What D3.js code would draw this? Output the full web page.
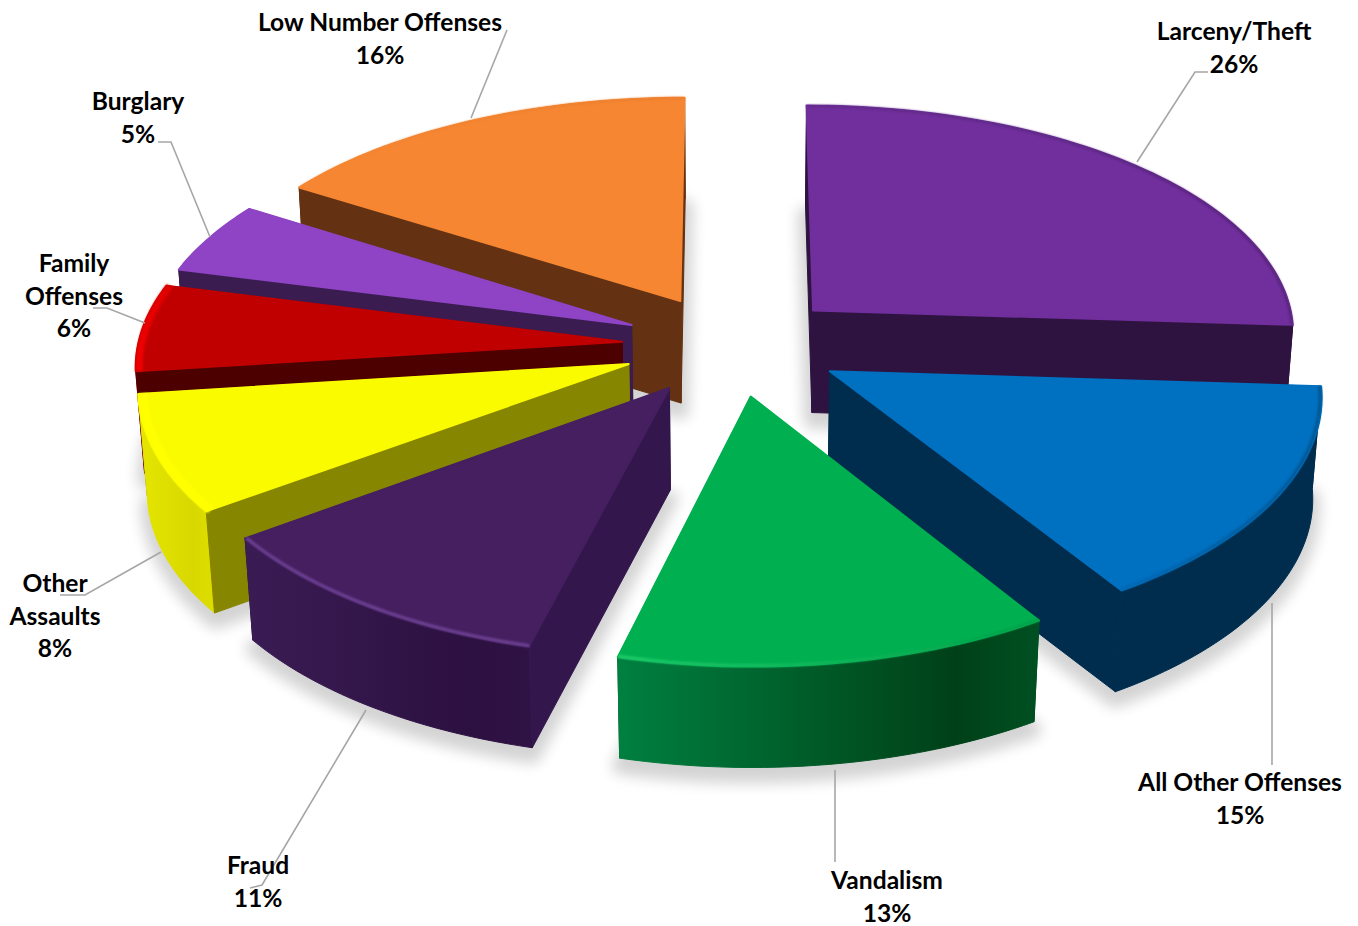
<!DOCTYPE html>
<html>
<head>
<meta charset="utf-8">
<script src="https://cdn.jsdelivr.net/npm/d3@7"></script>
<style>
html,body{margin:0;padding:0;background:#fff;}
svg{display:block;}
text{font-family:Lato,sans-serif;font-weight:700;font-size:24.6px;fill:#000;text-anchor:middle;}
</style>
</head>
<body>
<div id="chart"></div>
<script>
// values
const categories = ["Larceny/Theft","All Other Offenses","Vandalism","Fraud","Other Assaults","Family Offenses","Burglary","Low Number Offenses"];
const shares = [26,15,13,11,8,6,5,16];

// colours, same order as categories
const topColors = ["#702f9c","#0070c0","#00b050","#451f60","#fbfb00","#c00000","#8e44c4","#f68632"];
const bevelLeft = ["#5f2a88","#0068b4","#22cc6c","#6f4296","#ffff00","#f00000","#8e44c4","#f68632"];
const bevelRight = ["#4f2272","#00558f","#00a04a","#6f4296","#ffff00","#e00000","#8e44c4","#e87c2c"];
const bevelWidths = [2,3,3,3,9,7,0,2];
const sideColors = ["#2e1240","#002d4e","#004d22","#33174c","#868600","#4d0000","#3a1c50","#643212"];
const outerColors = [
    ["#4a2070","#2e1240"],
    ["#002d4e","#002d4e"],
    ["#008040","#004018"],
    ["#3a1c54","#2c1040"],
    ["#e6e600","#d8d800"],
    ["#ff0000","#c00000"],
    ["#3a1c50","#3a1c50"],
    ["#643212","#643212"]
];

// label placement: centre x, centre y of first line, lines
const labelLayout = [
    {x:1234,y:32,lines:["Larceny/Theft"]},
    {x:1240,y:783,lines:["All Other Offenses"]},
    {x:887,y:881,lines:["Vandalism"]},
    {x:258,y:866,lines:["Fraud"]},
    {x:55,y:584,lines:["Other","Assaults"]},
    {x:74,y:264,lines:["Family","Offenses"]},
    {x:138,y:102,lines:["Burglary"]},
    {x:380,y:23,lines:["Low Number Offenses"]}
];
const leaders = [
    [[1137,162],[1195,72],[1208,72]],
    [[1272,603],[1272,765]],
    [[835,770],[835,862]],
    [[366,710],[262,885],[250,888]],
    [[161,552],[85,595],[60,595]],
    [[145,323],[107,308],[93,308]],
    [[210,237],[171,142],[158,142]],
    [[471,118],[507,30]]
];

const width = 1358, height = 926;
const cx = 733, cy = 345;
const rx = 484, ry = 232;   // pie radii on screen
const perspX = 0.09, perspY = 0.1;  // back of pie is further away
const depth = 102;          // height of the cake
const explodeX = 0.23, explodeY = 0.22;

// pie space -> screen, z 0 is top face, 1 is bottom face
function project(u,v,z){
    return [
        cx + rx*u/(1 + perspX*v + 0.015*z),
        cy - ry*v/(1 + perspY*v + 0.015*z) + depth*z*(1 - 0.035*v)
    ];
}

function pt(d,a,r,z){
    const ou = explodeX*Math.sin(d.mid), ov = explodeY*Math.cos(d.mid);
    return project(ou + r*Math.sin(a), ov + r*Math.cos(a), z);
}

function arcPts(d,r,z){
    const n = Math.max(8,Math.ceil((d.endAngle-d.startAngle)*40));
    const ang = d3.scaleLinear().domain([0,n]).range([d.startAngle,d.endAngle]);
    return d3.range(n+1).map(i => pt(d,ang(i),r,z));
}

const pie = d3.pie().sort(null).value(d => d.share);
const rows = categories.map((c,i) => ({name:c,share:shares[i],i:i}));
const arcs = pie(rows).map(d => {
    d.mid = (d.startAngle+d.endAngle)/2;
    return d;
});
// back slices first
const order = arcs.slice().sort((a,b) => Math.cos(b.mid)-Math.cos(a.mid));

const line = d3.line();
const closed = p => line(p)+"Z";

const svg = d3.select("#chart").append("svg")
    .attr("width",width)
    .attr("height",height)
    .attr("viewBox",[0,0,width,height]);

const defs = svg.append("defs");
defs.append("filter").attr("id","soft")
    .attr("x","-20%").attr("y","-20%").attr("width","140%").attr("height","140%")
    .append("feGaussianBlur").attr("stdDeviation",7);
defs.append("filter").attr("id","bevel")
    .attr("filterUnits","userSpaceOnUse")
    .attr("x",0).attr("y",0).attr("width",width).attr("height",height)
    .append("feGaussianBlur").attr("stdDeviation",1.2);

arcs.forEach(d => {
    const i = d.data.i;
    const xs = arcPts(d,1,0).map(p => p[0]);
    const g = defs.append("linearGradient")
        .attr("id","outer"+i)
        .attr("gradientUnits","userSpaceOnUse")
        .attr("x1",d3.min(xs)).attr("x2",d3.max(xs))
        .attr("y1",0).attr("y2",0);
    g.append("stop").attr("offset","0%").attr("stop-color",outerColors[i][0]);
    g.append("stop").attr("offset","80%").attr("stop-color",outerColors[i][1]);
    g.append("stop").attr("offset","100%").attr("stop-color",d3.interpolateRgb(outerColors[i][1],outerColors[i][0])(0.25));

    const b = defs.append("linearGradient")
        .attr("id","bevelGrad"+i)
        .attr("gradientUnits","userSpaceOnUse")
        .attr("x1",d3.min(xs)).attr("x2",d3.max(xs))
        .attr("y1",0).attr("y2",0);
    b.append("stop").attr("offset","0%").attr("stop-color",bevelLeft[i]);
    b.append("stop").attr("offset","100%").attr("stop-color",bevelRight[i]);
});

// soft shadow under every slice
svg.append("g").attr("class","shadows")
    .attr("opacity",0.17)
    .attr("filter","url(#soft)")
    .selectAll("path").data(arcs).join("path")
    .attr("d",d => closed([pt(d,0,0,1.08)].concat(arcPts(d,1,1.08))))
    .attr("fill","#000")
    .attr("stroke","#000")
    .attr("stroke-width",16)
    .attr("stroke-linejoin","round");

const slices = svg.append("g").selectAll("g").data(order).join("g").attr("class","slice");

slices.each(function(d){
    const g = d3.select(this);
    const i = d.data.i;
    const apexTop = pt(d,0,0,0), apexBot = pt(d,0,0,1);
    const quad = a => [apexTop,pt(d,a,1,0),pt(d,a,1,1),apexBot];
    const drawWall = a => g.append("path").attr("d",closed(quad(a)))
        .attr("fill",sideColors[i]).attr("stroke",sideColors[i])
        .attr("stroke-width",1).attr("stroke-linejoin","round");

    // a wall goes over the rim only when it faces the viewer
    const startFront = d3.polygonArea(quad(d.startAngle)) > 0;
    const endFront = d3.polygonArea(quad(d.endAngle)) < 0;
    if(!startFront) drawWall(d.startAngle);
    if(!endFront) drawWall(d.endAngle);

    // outer rim
    const rimTop = arcPts(d,1,0), rimBot = arcPts(d,1,1).reverse();
    g.append("path").attr("d",closed(rimTop.concat(rimBot)))
        .attr("fill","url(#outer"+i+")")
        .attr("stroke","url(#outer"+i+")")
        .attr("stroke-width",1);

    if(startFront) drawWall(d.startAngle);
    if(endFront) drawWall(d.endAngle);

    // top face
    g.append("path").attr("d",closed([apexTop].concat(rimTop)))
        .attr("fill",topColors[i])
        .attr("stroke",topColors[i])
        .attr("stroke-width",2)
        .attr("stroke-linejoin","round");

    // highlight where the top meets the rim
    if(bevelWidths[i] > 0){
        g.append("path").attr("d",line(arcPts(d,1 - bevelWidths[i]/2/rx,0)))
            .attr("fill","none")
            .attr("stroke","url(#bevelGrad"+i+")")
            .attr("stroke-width",bevelWidths[i])
            .attr("filter","url(#bevel)");
    }
});

svg.append("g").attr("class","leaders")
    .selectAll("path").data(leaders).join("path")
    .attr("d",d => line(d))
    .attr("fill","none")
    .attr("stroke","#a6a6a6")
    .attr("stroke-width",1.6);

const labels = svg.append("g").attr("class","labels")
    .selectAll("text").data(rows).join("text")
    .attr("x",d => labelLayout[d.i].x)
    .attr("y",d => labelLayout[d.i].y + 8);

labels.each(function(d){
    const t = d3.select(this);
    const lay = labelLayout[d.i];
    lay.lines.concat([d.share+"%"]).forEach((s,k) => {
        t.append("tspan").attr("x",lay.x).attr("dy",k ? 32.5 : 0).text(s);
    });
});
</script>
</body>
</html>
